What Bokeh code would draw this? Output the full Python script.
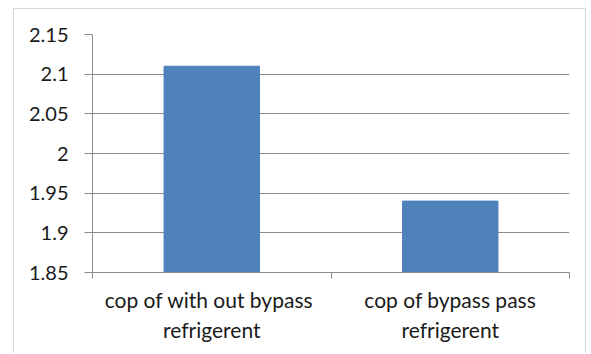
from bokeh.plotting import figure
from bokeh.models import Range1d, FixedTicker, LinearAxis, Grid
from bokeh.embed import file_html
from bokeh.resources import INLINE

# data
categories = ["cop of with  out bypass\nrefrigerent", "cop of bypass pass\nrefrigerent"]
cop_values = [2.11, 1.94]
y_ticks = [1.85, 1.9, 1.95, 2.0, 2.05, 2.1, 2.15]
y_tick_labels = ["1.85", "1.9", "1.95", "2", "2.05", "2.1", "2.15"]

FONT = "Lato"
GRID = "#8c8c8c"
BAR = "#4f81bd"
TEXT = "#1a1a1a"

n = len(categories)
centers = [i + 0.5 for i in range(n)]

p = figure(width=573, height=345, output_backend="svg", toolbar_location=None,
           x_range=Range1d(0, n), y_range=Range1d(y_ticks[0], y_ticks[-1]),
           x_axis_type=None, y_axis_type=None,
           min_border_left=78, min_border_right=18, min_border_top=25, min_border_bottom=82)
p.margin = (8, 0, 0, 13)
p.styles = {"border": "1px solid #d9d9d9", "border-bottom": "none"}
p.outline_line_color = None
p.background_fill_color = "white"
p.border_fill_color = "white"
p.xgrid.grid_line_color = None
p.ygrid.grid_line_color = None

# y axis
yaxis = LinearAxis(ticker=FixedTicker(ticks=y_ticks, minor_ticks=[]))
yaxis.major_label_overrides = {t: s for t, s in zip(y_ticks, y_tick_labels)}
yaxis.axis_line_color = GRID
yaxis.major_tick_line_color = GRID
yaxis.major_tick_out = 8
yaxis.major_tick_in = 0
yaxis.major_label_standoff = 16
yaxis.major_label_text_font = FONT
yaxis.major_label_text_font_size = "20px"
yaxis.major_label_text_color = TEXT
p.add_layout(yaxis, "left")

# x axis: category labels at centers, tick marks on category boundaries
xaxis = LinearAxis(ticker=FixedTicker(ticks=centers, minor_ticks=list(range(n + 1))))
xaxis.major_label_overrides = {c: s for c, s in zip(centers, categories)}
xaxis.axis_line_color = GRID
xaxis.major_tick_line_color = None
xaxis.minor_tick_line_color = GRID
xaxis.minor_tick_out = 6
xaxis.minor_tick_in = 0
xaxis.major_label_standoff = 8
xaxis.major_label_text_font = FONT
xaxis.major_label_text_font_size = "21px"
xaxis.major_label_text_color = TEXT
xaxis.major_label_text_line_height = 1.2
p.add_layout(xaxis, "below")

# horizontal gridlines
p.add_layout(Grid(dimension=1, ticker=yaxis.ticker, grid_line_color=GRID))

p.vbar(x=centers, top=cop_values, bottom=y_ticks[0], width=0.4,
       fill_color=BAR, line_color=BAR)

open("out.html", "w").write(file_html(p, INLINE))
